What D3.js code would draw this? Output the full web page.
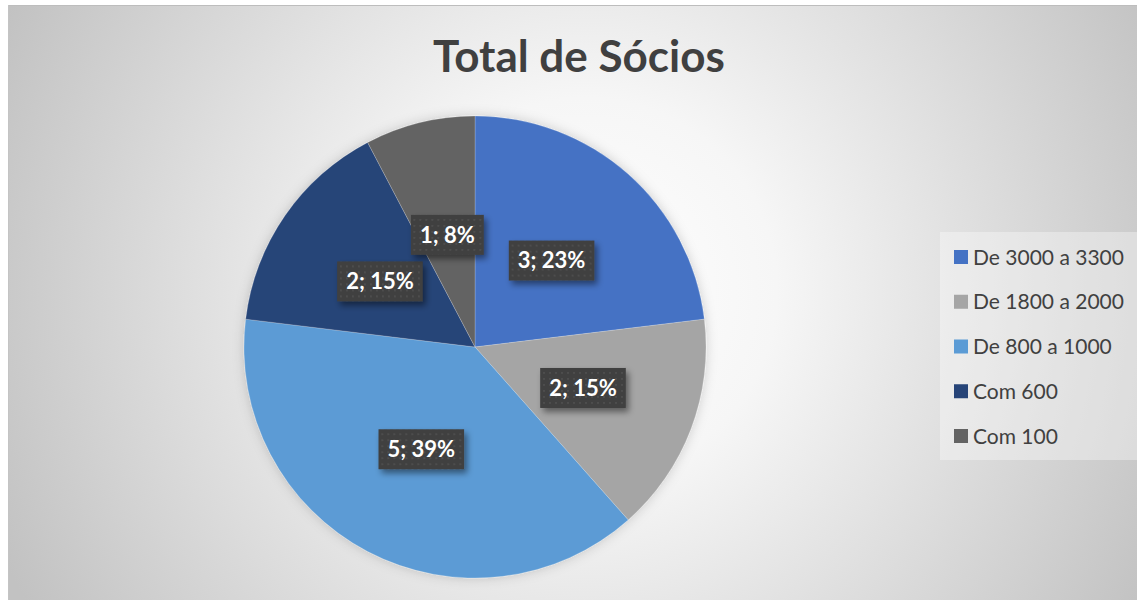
<!DOCTYPE html>
<html>
<head>
<meta charset="utf-8">
<script src="https://cdn.jsdelivr.net/npm/d3@7"></script>
<style>
  html, body { margin: 0; padding: 0; background: #fff; }
  svg { display: block; font-family: Lato, "Open Sans", sans-serif; }
</style>
</head>
<body>
<svg id="chart"></svg>
<script>
// data
let categories = ["De 3000 a 3300", "De 1800 a 2000", "De 800 a 1000", "Com 600", "Com 100"];
let values = [3, 2, 5, 2, 1];
let percents = [23, 15, 39, 15, 8];
let colors = ["#4472C4", "#A5A5A5", "#5B9BD5", "#264478", "#636363"];
let title = "Total de Sócios";

let width = 1137;
let height = 600;
let frame = {left: 8, top: 5};
let center = {x: 475, y: 347};
let radius = 231;

let svg = d3.select("#chart")
    .attr("width", width)
    .attr("height", height);

let defs = svg.append("defs");

// background radial gradient
let grad = defs.append("radialGradient")
    .attr("id", "bg")
    .attr("gradientUnits", "userSpaceOnUse")
    .attr("cx", 585).attr("cy", 290).attr("r", 640);
grad.append("stop").attr("offset", 0).attr("stop-color", "#ffffff");
grad.append("stop").attr("offset", 0.3).attr("stop-color", "#f6f6f6");
grad.append("stop").attr("offset", 1).attr("stop-color", "#c2c2c2");

// dotted pattern for the label boxes
let pat = defs.append("pattern")
    .attr("id", "dots")
    .attr("patternUnits", "userSpaceOnUse")
    .attr("width", 6).attr("height", 6);
pat.append("rect").attr("width", 6).attr("height", 6).attr("fill", "#3f3f3f");
pat.append("rect").attr("x", 2).attr("y", 2).attr("width", 2).attr("height", 2).attr("fill", "#4d4d4d");

let shadow = defs.append("filter").attr("id", "shadow")
    .attr("x", "-20%").attr("y", "-20%").attr("width", "150%").attr("height", "160%");
shadow.append("feDropShadow")
    .attr("dx", 3).attr("dy", 4).attr("stdDeviation", 3)
    .attr("flood-color", "#000").attr("flood-opacity", 0.45);

let pieShadow = defs.append("filter").attr("id", "pieShadow")
    .attr("x", "-10%").attr("y", "-10%").attr("width", "120%").attr("height", "120%");
pieShadow.append("feDropShadow")
    .attr("dx", 0).attr("dy", 0).attr("stdDeviation", 6)
    .attr("flood-color", "#000").attr("flood-opacity", 0.18);

// chart frame
svg.append("rect")
    .attr("x", frame.left).attr("y", frame.top)
    .attr("width", width - frame.left).attr("height", height - frame.top)
    .attr("fill", "url(#bg)");
svg.append("line")
    .attr("x1", frame.left).attr("x2", width)
    .attr("y1", frame.top + 0.5).attr("y2", frame.top + 0.5)
    .attr("stroke", "#bdbdbd");
svg.append("line")
    .attr("x1", frame.left + 0.5).attr("x2", frame.left + 0.5)
    .attr("y1", frame.top).attr("y2", height)
    .attr("stroke", "#c4c4c4");

// title
svg.append("text")
    .attr("x", 579).attr("y", 72)
    .attr("text-anchor", "middle")
    .attr("font-size", 44)
    .attr("font-weight", "bold")
    .attr("fill", "#404040")
    .text(title);

// pie
let pie = d3.pie().sort(null).value(d => d);
let arcs = pie(values);
let arc = d3.arc().innerRadius(0).outerRadius(radius);
let labelArc = d3.arc().innerRadius(0).outerRadius(radius);

let g = svg.append("g")
    .attr("transform", "translate(" + center.x + "," + center.y + ")");

g.append("g")
    .attr("filter", "url(#pieShadow)")
    .selectAll("path")
    .data(arcs)
    .join("path")
    .attr("d", arc)
    .attr("fill", (d, i) => colors[i])
    .attr("stroke", "#ffffff")
    .attr("stroke-width", 0.4)
    .attr("stroke-opacity", 0.5);

// data labels
let labels = g.selectAll("g.label")
    .data(arcs)
    .join("g")
    .attr("class", "label")
    .attr("transform", d => "translate(" + labelArc.centroid(d) + ")");

labels.each(function (d, i) {
    let lab = d3.select(this);
    let txt = d.data + "; " + percents[i] + "%";
    let t = lab.append("text")
        .attr("text-anchor", "middle")
        .attr("dy", "0.36em")
        .attr("font-size", 22)
        .attr("font-weight", "bold")
        .attr("fill", "#ffffff")
        .text(txt);
    let w = t.node().getComputedTextLength();
    lab.insert("rect", "text")
        .attr("x", -w / 2 - 9).attr("y", -20)
        .attr("width", w + 18).attr("height", 40)
        .attr("fill", "url(#dots)")
        .attr("filter", "url(#shadow)");
});

// legend
let legend = svg.append("g");
legend.append("rect")
    .attr("x", 940).attr("y", 232)
    .attr("width", 197).attr("height", 228)
    .attr("fill", "#ffffff").attr("fill-opacity", 0.35);

let rowY = d3.scalePoint()
    .domain(categories)
    .range([257, 436]);

let rows = legend.selectAll("g.row")
    .data(categories)
    .join("g")
    .attr("class", "row")
    .attr("transform", d => "translate(954," + rowY(d) + ")");
rows.append("rect")
    .attr("x", 0).attr("y", -7)
    .attr("width", 14).attr("height", 14)
    .attr("fill", (d, i) => colors[i]);
rows.append("text")
    .attr("x", 19).attr("dy", "0.36em")
    .attr("font-size", 21)
    .attr("fill", "#404040")
    .text(d => d);
</script>
</body>
</html>
